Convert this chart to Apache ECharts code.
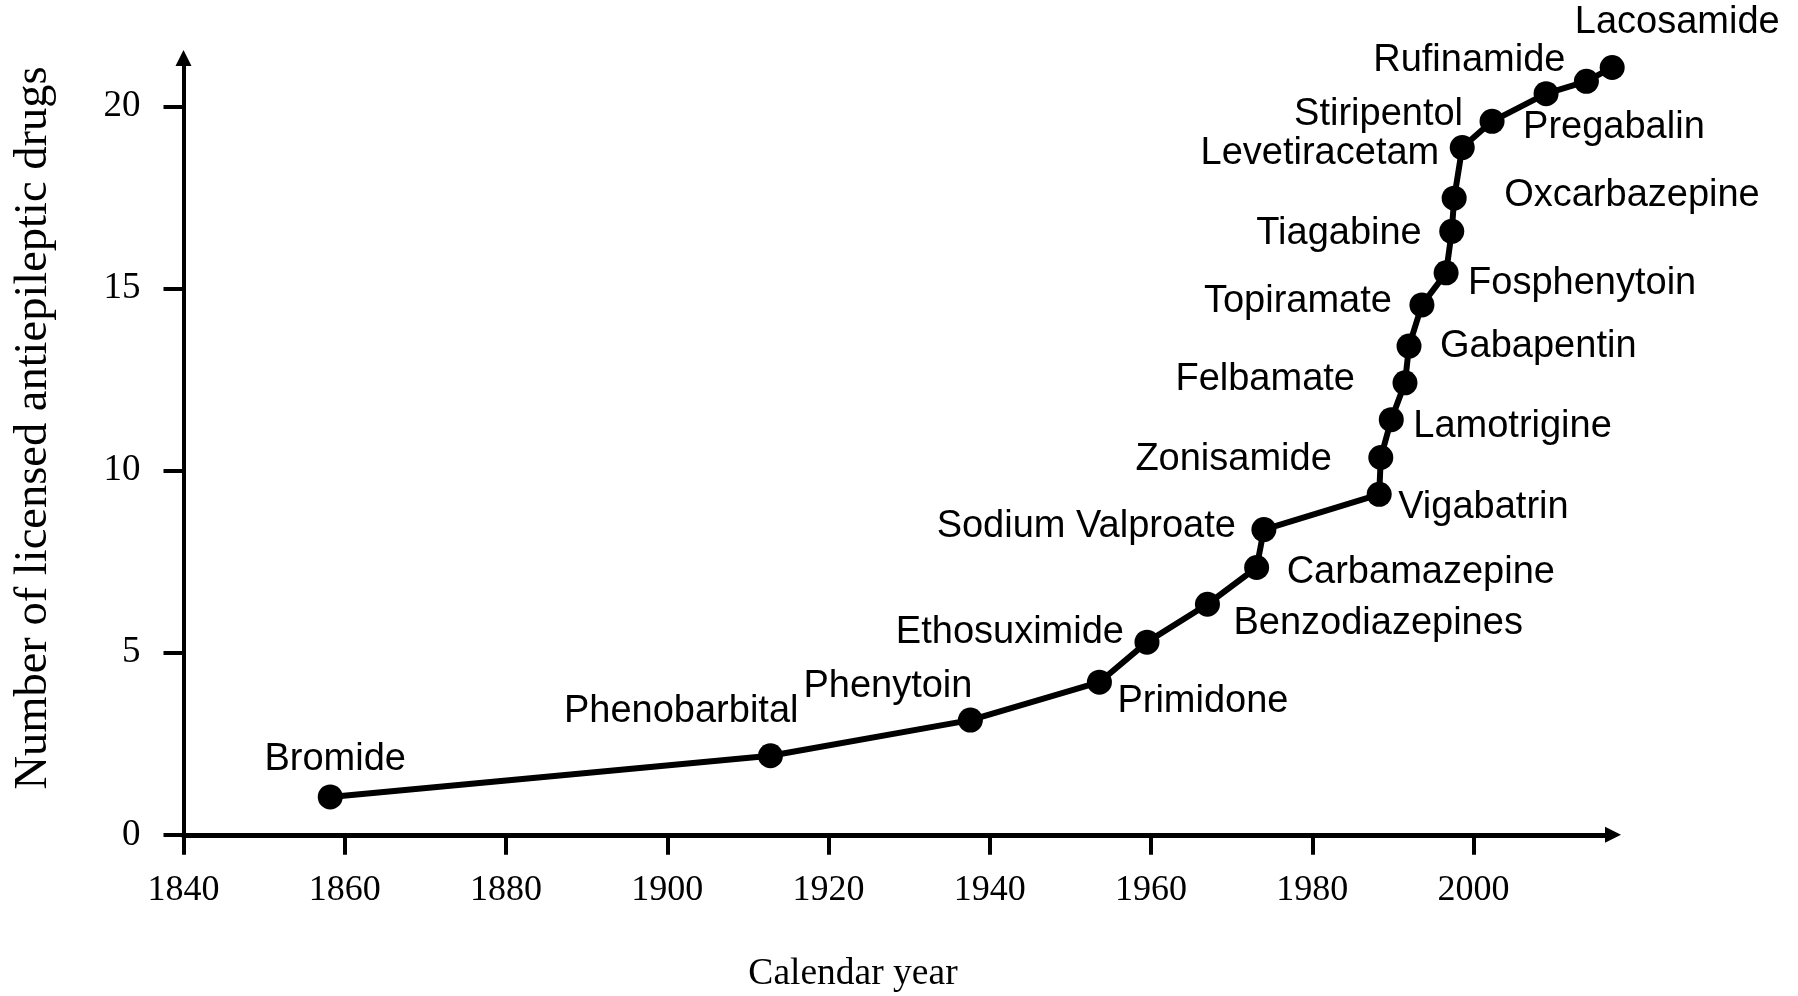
<!DOCTYPE html>
<html>
<head>
<meta charset="utf-8">
<script src="https://cdn.jsdelivr.net/npm/echarts@6/dist/echarts.min.js"></script>
<style>
html,body{margin:0;padding:0;background:#fff;}
#chart{width:1798px;height:996px;}
</style>
</head>
<body>
<div id="chart"></div>
<script>
// ---- data ----
const drugs = ['Bromide','Phenobarbital','Phenytoin','Primidone','Ethosuximide','Benzodiazepines','Carbamazepine','Sodium Valproate','Vigabatrin','Zonisamide','Lamotrigine','Felbamate','Gabapentin','Topiramate','Fosphenytoin','Tiagabine','Oxcarbazepine','Levetiracetam','Stiripentol','Pregabalin','Rufinamide','Lacosamide'];
const years = [1858.2,1912.8,1937.6,1953.6,1959.5,1967.0,1973.1,1974.0,1988.3,1988.5,1989.8,1991.5,1992.0,1993.6,1996.6,1997.3,1997.6,1998.6,2002.3,2009.0,2014.0,2017.2];
const counts = [1.04,2.17,3.15,4.19,5.29,6.33,7.34,8.38,9.35,10.36,11.40,12.41,13.42,14.55,15.43,16.57,17.48,18.87,19.59,20.35,20.69,21.07];
const xTicks = [1840,1860,1880,1900,1920,1940,1960,1980,2000];
const yTicks = [0,5,10,15,20];

// ---- label layout (style only): [align, dx, dy] from the marker centre ----
const labelLayout = [
  ['center',5,-37],['right',28,-44],['right',2,-34],['left',18,19],['right',-23,-10],
  ['left',26,19],['left',30,5],['right',-28,-3],['left',19,13],['right',-49,2],
  ['left',22,7],['right',-50,-3],['left',31,0],['right',-30,-3],['left',22,11],
  ['right',-30,2],['left',50,-3],['right',-23,6],['right',-29,-7],['left',-23,34],
  ['right',-21,-21],['center',65,-45]
];
const SYM = 25;

const data = drugs.map((name, i) => ({
  name: name,
  value: [years[i], counts[i]],
  label: {
    show: true,
    position: [SYM / 2 + labelLayout[i][1], SYM / 2 + labelLayout[i][2]],
    align: labelLayout[i][0],
    verticalAlign: 'middle',
    formatter: '{b}',
    color: '#000',
    fontFamily: '"Liberation Sans", Arial, sans-serif',
    fontSize: 38
  }
}));

const chart = echarts.init(document.getElementById('chart'), null, {renderer:'canvas'});
chart.setOption({
  backgroundColor: '#fff',
  animation: false,
  grid: {left: 183.5, right: 185, top: 58, bottom: 161.2, containLabel: false},
  xAxis: {
    type: 'value', min: 1840, max: 2017.3, interval: 20,
    splitLine: {show: false},
    axisLine: {show: true, onZero: false, lineStyle: {color: '#000', width: 5}, symbol: ['none','triangle'], symbolSize: [16, 16], symbolOffset: [0, 0]},
    axisTick: {show: true, length: 20, lineStyle: {color: '#000', width: 4}, customValues: xTicks},
    axisLabel: {color: '#000', fontFamily: '"Liberation Serif", "Times New Roman", serif', fontSize: 36, margin: 38, customValues: xTicks, formatter: v => String(v)}
  },
  yAxis: {
    type: 'value', min: 0, max: 21.33, interval: 5,
    splitLine: {show: false},
    axisLine: {show: true, onZero: false, lineStyle: {color: '#000', width: 4}, symbol: ['none','triangle'], symbolSize: [16, 16], symbolOffset: [0, 0]},
    axisTick: {show: true, length: 20, lineStyle: {color: '#000', width: 4}, customValues: yTicks},
    axisLabel: {color: '#000', fontFamily: '"Liberation Serif", "Times New Roman", serif', fontSize: 37, margin: 43, customValues: yTicks}
  },
  graphic: [
    {type: 'text', x: 34, y: 428, rotation: Math.PI/2,
     style: {text: 'Number of licensed antiepileptic drugs', font: '46.5px "Liberation Serif", "Times New Roman", serif', fill: '#000', align: 'center', verticalAlign: 'middle'}},
    {type: 'text', x: 853, y: 974,
     style: {text: 'Calendar year', font: '37.5px "Liberation Serif", "Times New Roman", serif', fill: '#000', align: 'center', verticalAlign: 'middle'}}
  ],
  series: [{
    type: 'line',
    data: data,
    symbol: 'circle',
    symbolSize: SYM,
    lineStyle: {color: '#000', width: 6},
    itemStyle: {color: '#000'}
  }]
});
</script>
</body>
</html>
